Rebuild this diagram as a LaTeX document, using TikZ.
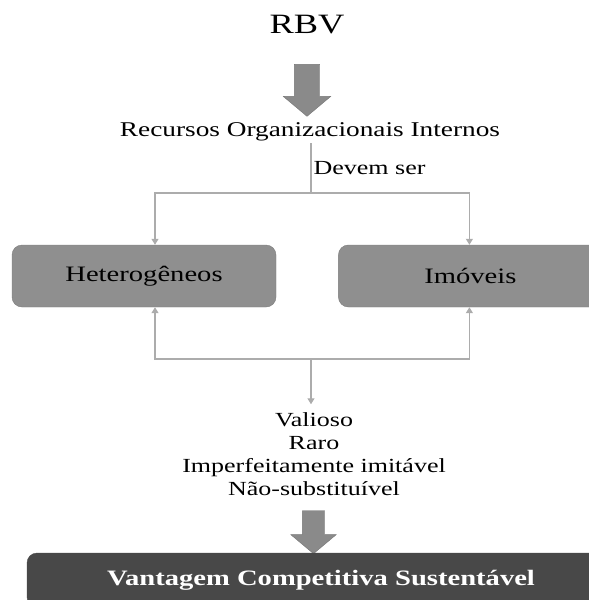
\documentclass[tikz,border=0pt]{standalone}
\usepackage{fontspec}
\setmainfont{Liberation Serif}[FakeStretch=1.3]
\usetikzlibrary{shapes.arrows, arrows.meta, positioning}

\definecolor{boxgray}{RGB}{143,143,143}
\definecolor{boxedge}{RGB}{125,125,125}
\definecolor{darkbox}{RGB}{72,72,72}
\definecolor{arrowgray}{RGB}{138,138,138}
\definecolor{arrowedge}{RGB}{118,118,118}
\definecolor{linegray}{RGB}{172,172,172}

\begin{document}
\begin{tikzpicture}[
    x=1pt, y=-1pt,
    title_text/.style = {font=\fontsize{28}{32}\selectfont, inner sep=2pt},
    plain_text/.style = {font=\fontsize{20}{23}\selectfont, align=center, inner sep=2pt},
    gray_box/.style = {rectangle, draw=boxedge, fill=boxgray, rounded corners=10pt, minimum width=264pt, minimum height=62pt, font=\fontsize{22}{26}\selectfont},
    result_box/.style = {rectangle, draw=darkbox, fill=darkbox, rounded corners=10pt, minimum width=588pt, minimum height=54pt, text=white, font=\fontsize{22}{26}\selectfont\bfseries},
    big_arrow/.style = {shape=single arrow, draw=arrowedge, fill=arrowgray, rotate=-90, inner xsep=0pt, single arrow tip angle=100, single arrow head indent=0pt},
    line/.style = {draw=linegray, line width=1.2pt},
    arrow_line/.style = {draw=linegray, line width=1.2pt, -{Triangle[width=7pt, length=6pt]}}
]
\useasboundingbox (0,0) rectangle (589,600);

% Nodes
\node [title_text] (rbv) at (307,25) {RBV};
\node [big_arrow, minimum height=52pt, inner ysep=12.5pt, single arrow head extend=11pt] (arr1) at (307,85) {};
\node [plain_text, font=\fontsize{21}{24}\selectfont] (recursos) at (310,132) {Recursos Organizacionais Internos};

\node [gray_box] (het) at (144,276) {Heterogêneos};
\node [gray_box, right=62pt of het] (imo) {Imóveis};

\coordinate (split) at (311,193);
\coordinate (join) at (311,359);

\node [plain_text] (lista) at (314,454) {Valioso\\Raro\\Imperfeitamente imitável\\Não-substituível};

\node [big_arrow, minimum height=43pt, inner ysep=11pt, single arrow head extend=11.5pt] (arr2) at (313.5,527.5) {};
\node [result_box] (vantagem) at (321,580) {Vantagem Competitiva Sustentável};

% Edges
\path [line] (recursos.south -| split) -- node[right, plain_text, pos=0.5] {Devem ser} (split);
\path [arrow_line] (split) -| ([xshift=11pt]het.north);
\path [arrow_line] (split) -| ([xshift=-1pt]imo.north);

\path [arrow_line] (join) -| ([xshift=11pt]het.south);
\path [arrow_line] (join) -| ([xshift=-1pt]imo.south);
\path [arrow_line] (join) -- ([yshift=6pt]lista.north -| join);

\end{tikzpicture}
\end{document}
